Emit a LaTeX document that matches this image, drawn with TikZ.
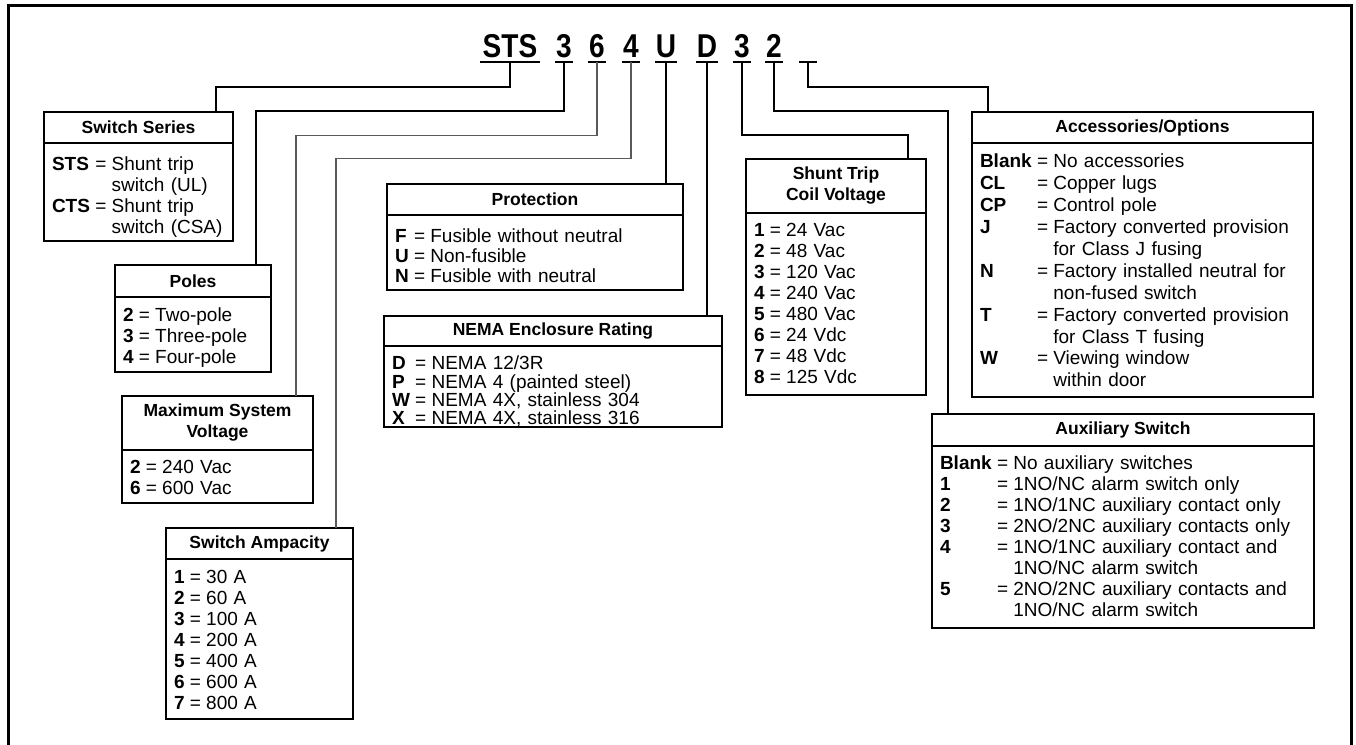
\documentclass[tikz,border=0pt]{standalone}
\usepackage{fontspec}
\setmainfont{Liberation Sans}
\usepackage{array}
\usetikzlibrary{positioning,calc}

% cells that take no height of their own, so rows keep the baselineskip
\newcolumntype{K}{>{\setbox0=\hbox\bgroup\bfseries}l<{\egroup\ht0=0pt\dp0=0pt\box0}}
\newcolumntype{V}{>{\setbox0=\hbox\bgroup}l<{\egroup\ht0=0pt\dp0=0pt\box0}}
% key = value table, lowered a little inside its box
\newcommand\codes[2][3pt]{\raisebox{-#1}[\height][\depth]{\begin{tabular}{@{}K@{\;}V@{\;}V@{}}#2\end{tabular}}}
\newcommand\hdrfont{\fontsize{17.5}{21}\selectfont\bfseries}
\newcommand\bodyfont{\fontsize{19}{21}\selectfont}
\newcommand\codefont{\fontsize{33}{36}\selectfont\bfseries}

\tikzset{
  hdr/.style={draw, line width=1.8pt, outer sep=0pt, inner sep=0pt, anchor=north west, align=center, font=\hdrfont},
  body/.style={draw, line width=1.8pt, outer sep=0pt, inner xsep=8pt, inner ysep=0pt, align=left, font=\bodyfont},
  code/.style={inner sep=0pt, anchor=base, text height=24pt, text depth=5pt, font=\codefont},
  conn/.style={line width=1.8pt},
  thinconn/.style={line width=1.2pt, black!65},
  uline/.style={line width=2pt},
}

\begin{document}
\begin{tikzpicture}[x=1pt, y=-1pt]
    \useasboundingbox (0,0) rectangle (1356,744);
    \draw[line width=3pt] (8,5) rectangle (1351,760);

    % catalog number
    \foreach \nm/\xx/\ww/\tx in {cSTS/510/60/STS, c3a/564/17/3, c6/597/17/6, c4/631/17/4, cU/666/22/U, cD/707/21/D, c3b/742/17/3, c2/774/17/2, cBlank/808/17/{}}
        \node[code, minimum width=\ww pt] (\nm) at (\xx,57) {\scalebox{0.85}[1]{\tx}};
    \foreach \nm in {cSTS,c3a,c6,c4,cU,cD,c3b,c2,cBlank}
        \draw[uline] (\nm.south west) -- (\nm.south east);

    % Switch Series
    \node[hdr, minimum width=189pt, minimum height=31pt] (hSeries) at (44,112) {Switch Series};
    \node[body, below=0pt of hSeries, text width=173pt, minimum height=98pt] (bSeries) {%
        \codes[6pt]{STS & = & Shunt trip\\
                        &   & switch (UL)\\
                    CTS & = & Shunt trip\\
                        &   & switch (CSA)}};

    % Poles
    \node[hdr, minimum width=156pt, minimum height=32pt] (hPoles) at (115,265) {Poles};
    \node[body, below=0pt of hPoles, text width=140pt, minimum height=75pt] (bPoles) {%
        \codes[4pt]{2 & = & Two-pole\\
                    3 & = & Three-pole\\
                    4 & = & Four-pole}};

    % Maximum System Voltage
    \node[hdr, minimum width=191pt, minimum height=54pt] (hVolt) at (122,396) {Maximum System\\Voltage};
    \node[body, below=0pt of hVolt, text width=175pt, minimum height=53pt] (bVolt) {%
        \codes{2 & = & 240 Vac\\
               6 & = & 600 Vac}};

    % Switch Ampacity
    \node[hdr, minimum width=187pt, minimum height=31pt] (hAmp) at (166,528) {Switch Ampacity};
    \node[body, below=0pt of hAmp, text width=171pt, minimum height=160pt] (bAmp) {%
        \codes{1 & = & 30 A\\
               2 & = & 60 A\\
               3 & = & 100 A\\
               4 & = & 200 A\\
               5 & = & 400 A\\
               6 & = & 600 A\\
               7 & = & 800 A}};

    % Protection
    \node[hdr, minimum width=296pt, minimum height=31pt] (hProt) at (387,184) {Protection};
    \node[body, below=0pt of hProt, text width=280pt, minimum height=75pt] (bProt) {%
        \fontsize{19}{20}\selectfont
        \codes[6pt]{F & = & Fusible without neutral\\
                    U & = & Non-fusible\\
                    N & = & Fusible with neutral}};

    % NEMA Enclosure Rating
    \node[hdr, minimum width=338pt, minimum height=30pt] (hNema) at (384,316) {NEMA Enclosure Rating};
    \node[body, below=0pt of hNema, text width=322pt, minimum height=81pt] (bNema) {%
        \fontsize{19}{18.3}\selectfont
        \codes[7pt]{D & = & NEMA 12/3R\\
                    P & = & NEMA 4 (painted steel)\\
                    W & = & NEMA 4X, stainless 304\\
                    X & = & NEMA 4X, stainless 316}};

    % Shunt Trip Coil Voltage
    \node[hdr, minimum width=180pt, minimum height=54pt] (hCoil) at (746,159) {Shunt Trip\\Coil Voltage};
    \node[body, below=0pt of hCoil, text width=164pt, minimum height=182pt] (bCoil) {%
        \codes[2pt]{1 & = & 24 Vac\\
                    2 & = & 48 Vac\\
                    3 & = & 120 Vac\\
                    4 & = & 240 Vac\\
                    5 & = & 480 Vac\\
                    6 & = & 24 Vdc\\
                    7 & = & 48 Vdc\\
                    8 & = & 125 Vdc}};

    % Accessories/Options
    \node[hdr, minimum width=341pt, minimum height=31pt] (hAcc) at (972,112) {Accessories/Options};
    \node[body, below=0pt of hAcc, text width=325pt, minimum height=254pt] (bAcc) {%
        \fontsize{19}{21.9}\selectfont
        \codes{Blank & = & No accessories\\
               CL    & = & Copper lugs\\
               CP    & = & Control pole\\
               J     & = & Factory converted provision\\
                     &   & for Class J fusing\\
               N     & = & Factory installed neutral for\\
                     &   & non-fused switch\\
               T     & = & Factory converted provision\\
                     &   & for Class T fusing\\
               W     & = & Viewing window\\
                     &   & within door}};

    % Auxiliary Switch
    \node[hdr, minimum width=382pt, minimum height=32pt] (hAux) at (932,414) {Auxiliary Switch};
    \node[body, below=0pt of hAux, text width=366pt, minimum height=182pt] (bAux) {%
        \codes[2pt]{Blank & = & No auxiliary switches\\
                    1     & = & 1NO/NC alarm switch only\\
                    2     & = & 1NO/1NC auxiliary contact only\\
                    3     & = & 2NO/2NC auxiliary contacts only\\
                    4     & = & 1NO/1NC auxiliary contact and\\
                          &   & 1NO/NC alarm switch\\
                    5     & = & 2NO/2NC auxiliary contacts and\\
                          &   & 1NO/NC alarm switch}};

    % connectors
    \draw[conn] (cSTS.south) -- ++(0,25) -| ($(hSeries.north west)+(172,0)$);
    \draw[conn] (c3a.south) -- ++(0,49) -| ($(hPoles.north west)+(141,0)$);
    \draw[thinconn] (c6.south) -- ++(0,73) -| ($(hVolt.north west)+(174,0)$);
    \draw[thinconn] (c4.south) -- ++(0,96) -| ($(hAmp.north west)+(170,0)$);
    \draw[conn] (cU.south) -- (cU.south |- hProt.north);
    \draw[conn] (cD.south) -- (cD.south |- hNema.north);
    \draw[conn] (c3b.south) -- ++(0,73) -| ($(hCoil.north west)+(162,0)$);
    \draw[conn] (c2.south) -- ++(0,49) -| ($(hAux.north west)+(16,0)$);
    \draw[conn] (cBlank.south) -- ++(0,25) -| ($(hAcc.north west)+(16,0)$);
\end{tikzpicture}
\end{document}
